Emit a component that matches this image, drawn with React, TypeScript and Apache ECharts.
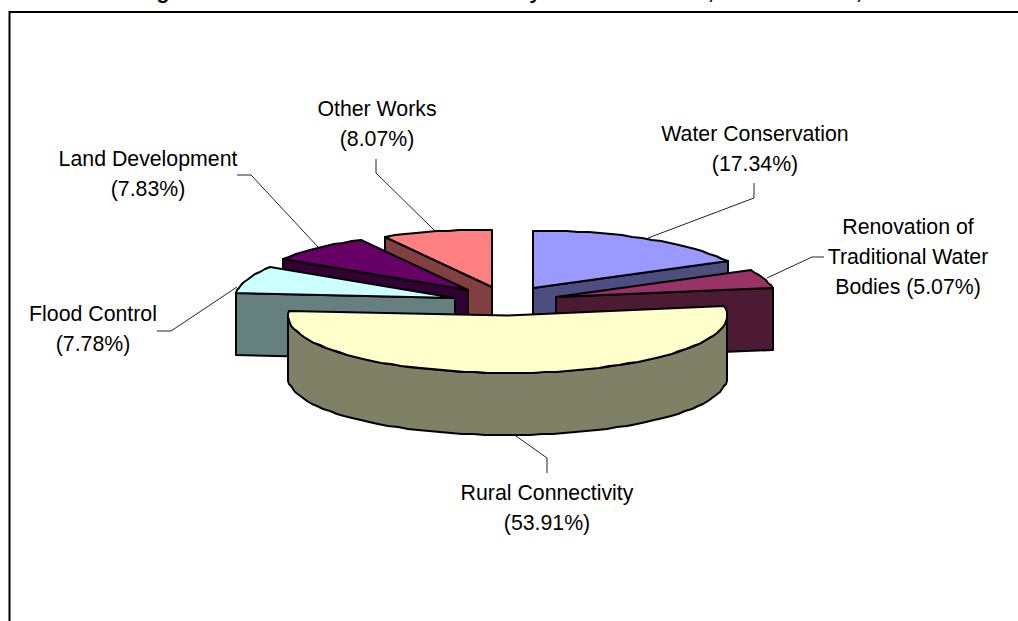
import React, { useEffect, useRef } from "react";
import * as echarts from "echarts";

const sliceNames = ["Water Conservation", "Renovation of Traditional Water Bodies", "Rural Connectivity", "Flood Control", "Land Development", "Other Works"];
const sliceValues = [17.34, 5.07, 53.91, 7.78, 7.83, 8.07];
const topColors = ["#9999FF", "#993366", "#FFFFCC", "#CCFFFF", "#660066", "#FF8080"];
const wallColors = ["#4D4D80", "#4D1A33", "#808066", "#668080", "#330033", "#804040"];
const labelNameLines = [["Water Conservation"], ["Renovation of", "Traditional Water", "Bodies"], ["Rural Connectivity"], ["Flood Control"], ["Land Development"], ["Other Works"]];

// layout
const drawOrder = [5, 4, 3, 0, 1, 2];
const apexes = [[533, 288], [556, 297], [507.5, 315.5], [455, 298], [468, 290], [492, 287]];
const labelCentres = [[755, 133.5], [908, 226.5], [547, 492.5], [93, 313.5], [148, 158.5], [377, 108.5]];
const leaders = [
  [[754, 183], [754, 198], [648, 238]],
  [[824, 257], [812, 257], [767, 278]],
  [[547, 473], [547, 458], [516, 436]],
  [[157, 331], [171, 331], [237, 287]],
  [[237, 175], [251, 175], [318, 247]],
  [[376, 159], [376, 173], [435, 231]],
];
const titleFragments = [["g", 163], ["y", 535], [",", 711], [",", 859]];
const RX = 219.5;
const RY = 57.5;
const DEPTH = 62;
const LINE_H = 30;
const FONT = '"Liberation Sans", Arial, sans-serif';

const total = sliceValues.reduce((a, b) => a + b, 0);
const startAngles: number[] = [];
sliceValues.reduce((acc, v, i) => {
  startAngles[i] = acc;
  return acc + (v / total) * 360;
}, 0);

function rim(apex: number[], deg: number, dy = 0): number[] {
  const r = (deg * Math.PI) / 180;
  return [Math.round(apex[0] + RX * Math.sin(r)), Math.round(apex[1] - RY * Math.cos(r) + dy)];
}

function arcPoints(apex: number[], a0: number, a1: number, dy = 0): number[][] {
  const n = Math.max(2, Math.ceil((a1 - a0) / 3));
  const pts: number[][] = [];
  for (let k = 0; k <= n; k++) pts.push(rim(apex, a0 + ((a1 - a0) * k) / n, dy));
  return pts;
}

function renderSlice(_params: any, api: any) {
  const i = api.value(0);
  const a0 = startAngles[i];
  const a1 = a0 + (api.value(1) / total) * 360;
  const apex = apexes[i];
  const edge = { stroke: "#000", lineWidth: 2, lineJoin: "round" };
  const children: any[] = [];
  const wall = (points: number[][]) =>
    children.push({ type: "polygon", shape: { points }, style: { fill: wallColors[i], ...edge } });
  const spansFront = a0 < 90 && a1 > 270;
  if (!spansFront) {
    const cut = (a0 + a1) / 2 < 180 ? a1 : a0;
    const p = rim(apex, cut);
    wall([apex, p, [p[0], p[1] + DEPTH], [apex[0], apex[1] + DEPTH]]);
  } else {
    wall([...arcPoints(apex, 90, 270), ...arcPoints(apex, 90, 270, DEPTH).reverse()]);
  }
  children.push({
    type: "polygon",
    shape: { points: [apex, ...arcPoints(apex, a0, a1)] },
    style: { fill: topColors[i], ...edge },
  });
  return { type: "group", children };
}

export default function App() {
  const ref = useRef<HTMLDivElement>(null);
  useEffect(() => {
    document.body.style.margin = "0";
    const chart = echarts.init(ref.current!, undefined, { renderer: "svg" });
    const graphic: any[] = [
      { type: "line", silent: true, z: 1, shape: { x1: 9.5, y1: 12, x2: 1018, y2: 12 }, style: { stroke: "#000", lineWidth: 2 } },
      { type: "line", silent: true, z: 1, shape: { x1: 9.5, y1: 11, x2: 9.5, y2: 621 }, style: { stroke: "#000", lineWidth: 2 } },
    ];
    titleFragments.forEach(([ch, x]) => {
      graphic.push({
        type: "text", silent: true, z: 1, x: x as number, y: 2,
        style: { text: ch as string, fill: "#000", font: `bold 21px ${FONT}`, textAlign: "center", textVerticalAlign: "bottom" },
      });
    });
    leaders.forEach((points) => {
      graphic.push({ type: "polyline", silent: true, z: 5, shape: { points }, style: { stroke: "#222", lineWidth: 1, fill: "none" } });
    });
    sliceValues.forEach((v, i) => {
      const lines = [...labelNameLines[i]];
      const pct = `(${v.toFixed(2)}%)`;
      if (lines.length > 1) lines[lines.length - 1] += " " + pct;
      else lines.push(pct);
      lines.forEach((t, k) => {
        graphic.push({
          type: "text", silent: true, z: 5,
          x: labelCentres[i][0], y: labelCentres[i][1] + k * LINE_H,
          style: { text: t, fill: "#000", font: `21.3px ${FONT}`, textAlign: "center", textVerticalAlign: "middle" },
        });
      });
    });
    chart.setOption({
      animation: false,
      backgroundColor: "#fff",
      graphic,
      series: [
        {
          type: "custom",
          coordinateSystem: "none",
          silent: true,
          z: 3,
          renderItem: renderSlice,
          data: drawOrder.map((i) => ({ name: sliceNames[i], value: [i, sliceValues[i]] })),
        },
      ],
    });
    return () => chart.dispose();
  }, []);
  return <div ref={ref} style={{ position: "absolute", left: 0, top: 0, width: 1018, height: 621, overflow: "hidden" }} />;
}
